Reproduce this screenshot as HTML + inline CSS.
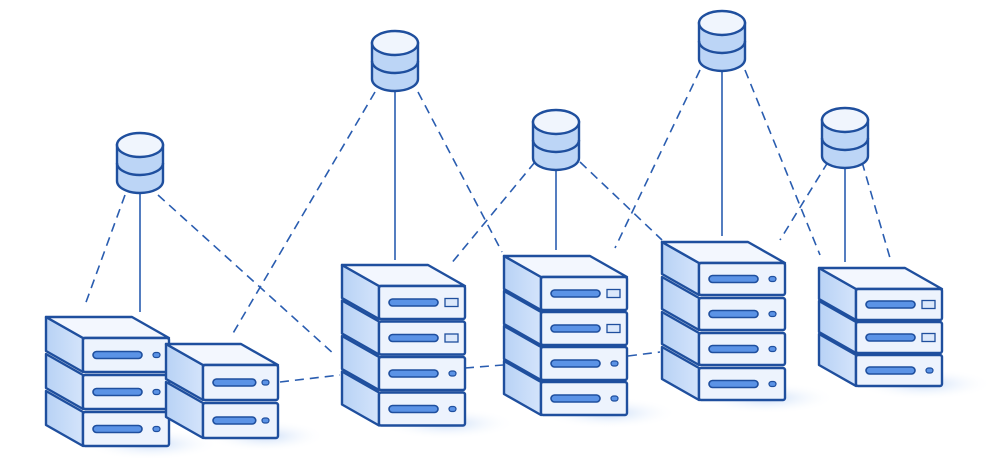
<!DOCTYPE html>
<html><head><meta charset="utf-8"><style>
html,body{margin:0;padding:0;background:#fff;width:1000px;height:470px;overflow:hidden}
</style></head><body>
<svg id="s" width="1000" height="470" viewBox="0 0 1000 470" xmlns="http://www.w3.org/2000/svg">
<defs>
<linearGradient id="side" x1="0" y1="0" x2="1" y2="0"><stop offset="0" stop-color="#b8d2f5"/><stop offset="1" stop-color="#d4e4fb"/></linearGradient>
<radialGradient id="sh" cx="0.5" cy="0.5" r="0.5"><stop offset="0" stop-color="#c4d9f7" stop-opacity="0.9"/><stop offset="1" stop-color="#ffffff" stop-opacity="0"/></radialGradient>
</defs>
<g id="lines" stroke="#2a5db0" stroke-width="1.6" fill="none"></g>
<g id="objs"></g>
</svg>
<script>
var L=document.getElementById('lines'),O=document.getElementById('objs');
var S='#1f4f9e';
function add(p,h){p.insertAdjacentHTML('beforeend',h);}
function dl(x1,y1,x2,y2){add(L,'<line x1="'+x1+'" y1="'+y1+'" x2="'+x2+'" y2="'+y2+'" stroke-dasharray="9 6"/>');}
function sl(x1,y1,x2,y2){add(L,'<line x1="'+x1+'" y1="'+y1+'" x2="'+x2+'" y2="'+y2+'"/>');}
dl(125,195,85,305);dl(158,195,335,355);
dl(375,92,232,335);dl(418,92,502,252);
dl(535,162,450,265);dl(580,162,662,240);
dl(700,70,615,248);dl(745,70,820,255);
dl(828,162,780,240);dl(862,162,890,258);
dl(280,382,340,375);dl(465,368,503,365);dl(628,356,660,352);
sl(140,188,140,312);sl(395,86,395,260);sl(556,163,556,250);sl(722,67,722,236);sl(845,162,845,262);
function stack(fx,fw,fy,n,pitch,fh,slot){
  var dx=-37,dy=-21;
  var bot=fy+(n-1)*pitch+fh;
  add(O,'<ellipse cx="'+(fx+fw/2+25)+'" cy="'+(bot-2)+'" rx="'+(fw*0.8)+'" ry="16" fill="url(#sh)"/>');
  for(var i=n-1;i>=0;i--){
    var y=fy+i*pitch;
    var side=[[fx,y],[fx+dx,y+dy],[fx+dx,y+dy+fh],[fx,y+fh]].map(function(p){return p.join(',')}).join(' ');
    add(O,'<polygon points="'+side+'" fill="url(#side)" stroke="'+S+'" stroke-width="2.4" stroke-linejoin="round"/>');
    if(i==0){
      var top=[[fx,y],[fx+fw,y],[fx+fw+dx,y+dy],[fx+dx,y+dy]].map(function(p){return p.join(',')}).join(' ');
      add(O,'<polygon points="'+top+'" fill="#f3f7fe" stroke="'+S+'" stroke-width="2.4" stroke-linejoin="round"/>');
    }
    add(O,'<rect x="'+fx+'" y="'+y+'" width="'+fw+'" height="'+fh+'" rx="2" fill="#edf3fd" stroke="'+S+'" stroke-width="2.4" stroke-linejoin="round"/>');
    var cy=y+fh/2;
    add(O,'<rect x="'+(fx+10)+'" y="'+(cy-3.5)+'" width="'+(fw*0.57)+'" height="7" rx="3.5" fill="#5b93e6" stroke="'+S+'" stroke-width="1.6"/>');
    if(slot&&i<2){add(O,'<rect x="'+(fx+fw-20)+'" y="'+(cy-4)+'" width="13" height="8" fill="#dbe8fb" stroke="'+S+'" stroke-width="1.3"/>');}
    else add(O,'<rect x="'+(fx+fw-16)+'" y="'+(cy-2.5)+'" width="7" height="5" rx="2.5" fill="#5b93e6" stroke="'+S+'" stroke-width="1.2"/>');
  }
}
stack(83,86,338,3,37,34,false);
stack(203,75,365,2,38,35,false);
stack(379,86,286,4,35.5,33,true);
stack(541,86,277,4,35,33,true);
stack(699,86,263,4,35,32,false);
stack(856,86,289,3,33,31,true);
function db(cx,cy){
  var rx=23,ry=12,t=cy-15,m=cy+3,b=cy+21;
  add(O,'<path d="M'+(cx-rx)+','+t+' L'+(cx-rx)+','+b+' A'+rx+','+ry+' 0 0 0 '+(cx+rx)+','+b+' L'+(cx+rx)+','+t+' Z" fill="#bcd5f6" stroke="'+S+'" stroke-width="2.4"/>');
  add(O,'<path d="M'+(cx-rx)+','+m+' A'+rx+','+ry+' 0 0 0 '+(cx+rx)+','+m+'" fill="none" stroke="'+S+'" stroke-width="2.4"/>');
  add(O,'<ellipse cx="'+cx+'" cy="'+t+'" rx="'+rx+'" ry="'+ry+'" fill="#f0f5fd" stroke="'+S+'" stroke-width="2.4"/>');
}
db(140,160);db(395,58);db(556,137);db(722,38);db(845,135);
</script>
</body></html>
